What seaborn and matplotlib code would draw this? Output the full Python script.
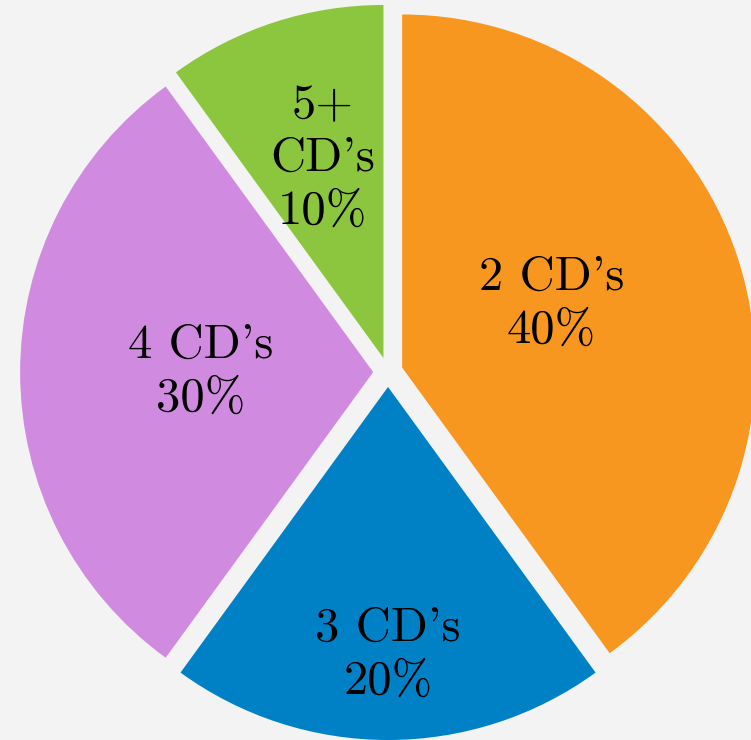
import numpy as np
import matplotlib.pyplot as plt
import seaborn as sns

# data
labels = ["2 CD's", "3 CD's", "4 CD's", "5+\nCD's"]
shares = [40, 20, 30, 10]
colors = ["#F7971F", "#0081C6", "#D08BE0", "#8CC63F"]

# label placement inside each wedge: (fraction of radius, angle shift in degrees)
label_pos = [(0.46, 5), (0.76, 0), (0.49, 0), (0.59, -1)]

sns.set_style("white")
plt.rcParams['font.family'] = ['cmr10', 'DejaVu Serif']
bg = "#F3F3F3"

fig = plt.figure(figsize=(7.51, 7.40), dpi=100, facecolor=bg)
ax = fig.add_axes([0, 0, 1, 1])
ax.set_facecolor(bg)

wedges, _ = ax.pie(shares, colors=colors, startangle=90, counterclock=False,
                   explode=[0.042] * len(shares), radius=1.0,
                   wedgeprops=dict(linewidth=0))

for w, lab, val, (rf, shift) in zip(wedges, labels, shares, label_pos):
    mid = np.deg2rad((w.theta1 + w.theta2) / 2 + shift)
    cx, cy = w.center
    ax.text(cx + rf * w.r * np.cos(mid), cy + rf * w.r * np.sin(mid),
            f"{lab}\n{val}%", ha='center', va='center', multialignment='center',
            fontsize=35, linespacing=1.25, color='black')

ax.set_aspect('auto')
ax.set_xlim(-1.099, 1.028)
ax.set_ylim(-1.042, 1.054)
ax.axis('off')

plt.savefig('out.png', dpi=100, facecolor=bg)
